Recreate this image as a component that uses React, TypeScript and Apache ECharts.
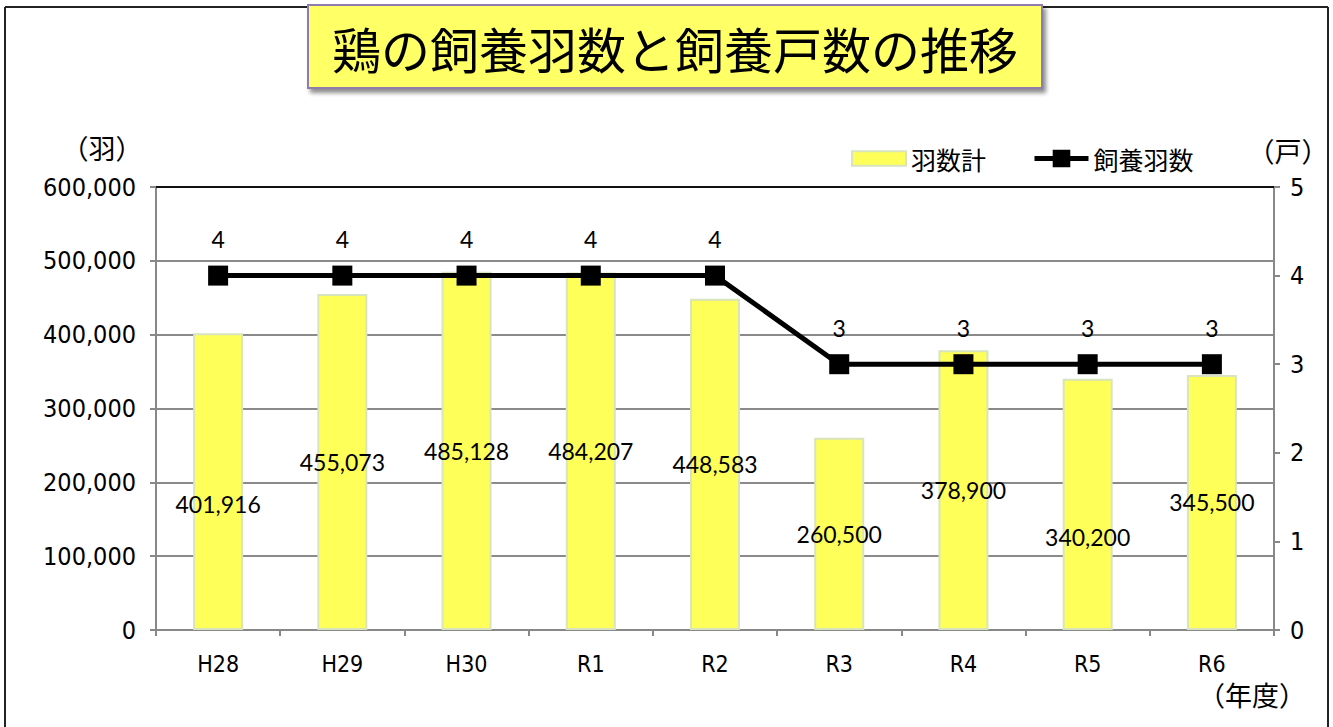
import React, { useEffect, useRef } from "react";
import * as echarts from "echarts";

const categories = ["H28", "H29", "H30", "R1", "R2", "R3", "R4", "R5", "R6"];
const birdCounts = [401916, 455073, 485128, 484207, 448583, 260500, 378900, 340200, 345500];
const farmCounts = [4, 4, 4, 4, 4, 3, 3, 3, 3];
const leftTicks = { min: 0, max: 600000, interval: 100000 };
const rightTicks = { min: 0, max: 5, interval: 1 };
const titleText = "鶏の飼養羽数と飼養戸数の推移";
const barName = "羽数計";
const lineName = "飼養羽数";

// label vertical nudges (px) to mimic manual placement in the original
const barLabelNudge = [22, 0, 0, 0, 0, 0, 0, 33, 0];

const CJK = '"Noto Sans CJK JP", sans-serif';
const NUM = '"DejaVu Sans Condensed", "Liberation Sans Narrow", "Noto Sans CJK JP", sans-serif';
const LBL = 'Lato, "Noto Sans", sans-serif';

export default function App() {
  const ref = useRef<HTMLDivElement>(null);
  useEffect(() => {
    if (!ref.current) return;
    const chart = echarts.init(ref.current, null, { renderer: "svg" });
    const fmt = (v: number) => v.toLocaleString("en-US");
    chart.setOption({
      animation: false,
      backgroundColor: "#ffffff",
      grid: { left: 156, right: 59, top: 187, bottom: 97, containLabel: false },
      legend: {
        left: 846,
        top: 141,
        itemGap: 46,
        itemWidth: 54,
        itemHeight: 22,
        textStyle: { fontFamily: CJK, fontSize: 25, color: "#000", padding: [0, 0, 0, 0] },
        data: [
          {
            name: barName,
            icon: "path://M0,0H52V14H0Z",
            itemStyle: { color: "#FFFF59", borderColor: "#D7E4BD", borderWidth: 2 },
          },
          { name: lineName, lineStyle: { width: 5, color: "#000" } },
        ],
      },
      xAxis: {
        type: "category",
        data: categories,
        axisLine: { lineStyle: { color: "#888", width: 2 } },
        axisTick: { show: true, lineStyle: { color: "#888", width: 2 }, length: 6 },
        axisLabel: { fontFamily: NUM, fontSize: 23, color: "#000", margin: 22 },
      },
      yAxis: [
        {
          type: "value",
          min: leftTicks.min,
          max: leftTicks.max,
          interval: leftTicks.interval,
          axisLine: { show: true, lineStyle: { color: "#888", width: 2 } },
          axisTick: { show: true, lineStyle: { color: "#888", width: 2 }, length: 6 },
          splitLine: { show: true, lineStyle: { color: "#8a8a8a", width: 2 } },
          axisLabel: {
            fontFamily: NUM,
            fontSize: 25,
            color: "#000",
            margin: 20,
            formatter: (v: number) => fmt(v),
          },
        },
        {
          type: "value",
          min: rightTicks.min,
          max: rightTicks.max,
          interval: rightTicks.interval,
          position: "right",
          axisLine: { show: true, lineStyle: { color: "#888", width: 2 } },
          axisTick: { show: true, lineStyle: { color: "#888", width: 2 }, length: 6 },
          splitLine: { show: false },
          axisLabel: { fontFamily: NUM, fontSize: 25, color: "#000", margin: 16 },
        },
      ],
      series: [
        {
          name: barName,
          type: "bar",
          yAxisIndex: 0,
          barWidth: 50,
          itemStyle: { color: "#FFFF59", borderColor: "#D7E4BD", borderWidth: 2 },
          data: birdCounts.map((v, i) => ({
            value: v,
            label: { offset: [0, barLabelNudge[i]] },
          })),
          label: {
            show: true,
            position: "inside",
            fontFamily: LBL,
            fontSize: 23,
            color: "#000",
            formatter: (p: any) => fmt(p.value),
          },
        },
        {
          name: lineName,
          type: "line",
          yAxisIndex: 1,
          data: farmCounts,
          symbol: "rect",
          symbolSize: 20,
          itemStyle: { color: "#000" },
          lineStyle: { color: "#000", width: 5 },
          label: {
            show: true,
            position: "top",
            distance: 15,
            fontFamily: LBL,
            fontSize: 23,
            color: "#000",
          },
        },
      ],
      graphic: [
        // outer frame
        { type: "line", shape: { x1: 5, y1: 7, x2: 1328, y2: 7 }, style: { stroke: "#222", lineWidth: 2 }, z: 0 },
        { type: "line", shape: { x1: 5, y1: 7, x2: 5, y2: 727 }, style: { stroke: "#222", lineWidth: 2 }, z: 0 },
        { type: "line", shape: { x1: 1328, y1: 7, x2: 1328, y2: 727 }, style: { stroke: "#222", lineWidth: 2 }, z: 0 },
        // dark top border of plot area
        { type: "line", shape: { x1: 156, y1: 187, x2: 1274, y2: 187 }, style: { stroke: "#111", lineWidth: 2 }, z: 5 },
        // title box
        {
          type: "rect",
          shape: { x: 308, y: 5, width: 734, height: 83 },
          style: {
            fill: "#FFFF66",
            stroke: "#8E7CB0",
            lineWidth: 2,
            shadowBlur: 4,
            shadowOffsetX: 3,
            shadowOffsetY: 4,
            shadowColor: "rgba(0,0,0,0.45)",
          },
          z: 10,
        },
        {
          type: "text",
          x: 675,
          y: 47,
          style: {
            text: titleText,
            fontFamily: CJK,
            fontSize: 49,
            fill: "#000",
            align: "center",
            verticalAlign: "middle",
          },
          z: 11,
        },
        {
          type: "text",
          x: 102,
          y: 147,
          style: { text: "（羽）", fontFamily: CJK, fontSize: 27, fill: "#000", align: "center", verticalAlign: "middle" },
        },
        {
          type: "text",
          x: 1288,
          y: 150,
          style: { text: "（戸）", fontFamily: CJK, fontSize: 27, fill: "#000", align: "center", verticalAlign: "middle" },
        },
        {
          type: "text",
          x: 1252,
          y: 694,
          style: { text: "（年度）", fontFamily: CJK, fontSize: 27, fill: "#000", align: "center", verticalAlign: "middle" },
        },
      ],
    });
    return () => chart.dispose();
  }, []);
  return (
    <div
      ref={ref}
      style={{ position: "fixed", left: 0, top: 0, width: 1333, height: 727, background: "#fff" }}
    />
  );
}
